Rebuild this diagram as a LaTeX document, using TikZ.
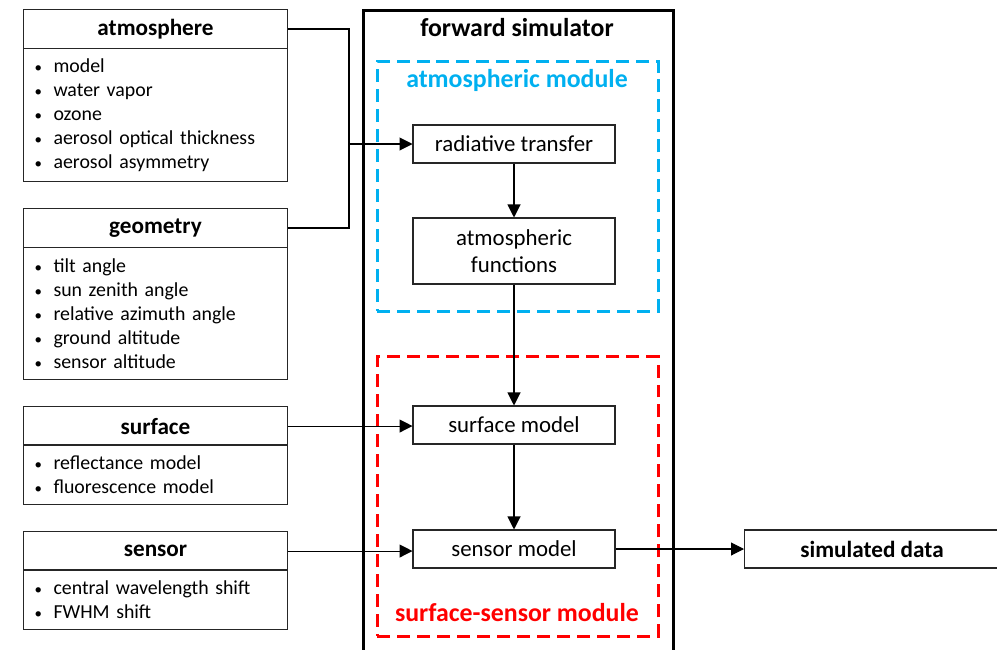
\documentclass[tikz,border=0pt]{standalone}
\usepackage{fontspec}
\setmainfont{Carlito}
\usetikzlibrary{arrows.meta}

\definecolor{atmblue}{RGB}{0,176,240}
\definecolor{surfred}{RGB}{255,0,0}
\newcommand{\bul}{\makebox[0.36cm][l]{\hspace{-0.02cm}\scalebox{0.75}{\textbullet}}}

\tikzset{
  head/.style={draw=black!85, line width=0.6pt, anchor=north west, inner sep=0pt,
    minimum width=5.28cm, minimum height=0.78cm, font=\bfseries\fontsize{13.2}{15}\selectfont},
  listbox/.style={draw=black!85, line width=0.6pt, anchor=north west, align=left,
    inner xsep=0.24cm, inner ysep=0pt, text width=4.8cm, font=\fontsize{11.3}{13.6}\selectfont},
  stepbox/.style={draw=black!85, line width=0.6pt, inner sep=0pt, align=center,
    minimum width=4.04cm, minimum height=0.76cm, font=\fontsize{13}{15.5}\selectfont},
  title/.style={font=\bfseries\fontsize{14.7}{17}\selectfont},
  module/.style={draw=#1, line width=1.7pt, dash pattern=on 0.26cm off 0.14cm,
    anchor=north west, inner sep=0pt, minimum width=5.62cm},
  flow/.style={-{Triangle[length=0.26cm,width=0.26cm]}, line width=0.6pt},
}

\begin{document}
\begin{tikzpicture}[x=0.02cm, y=-0.02cm]
  \useasboundingbox (0,0) rectangle (997,649);

  % forward simulator frame
  \node[draw, line width=1.7pt, anchor=north west, inner sep=0pt,
    minimum width=6.2cm, minimum height=13.3cm] (fwdsim) at (362,9) {};
  \node[title] (fwdtitle) at (517,28) {forward simulator};

  % modules
  \node[module=atmblue, minimum height=5cm] (atmmod) at (376,60) {};
  \node[title, text=atmblue] (atmlabel) at (517,80) {atmospheric module};
  \node[module=surfred, minimum height=5.6cm] (surfmod) at (376,355) {};
  \node[title, text=surfred] (surflabel) at (517,613) {surface-sensor module};

  % inputs
  \node[head] (atmhead) at (23,9) {atmosphere};
  \node[listbox, minimum height=2.66cm] (atmlist) at (23,48) {
    \bul model\\
    \bul water vapor\\
    \bul ozone\\
    \bul aerosol optical thickness\\
    \bul aerosol asymmetry};

  \node[head] (geohead) at (23,208) {geometry};
  \node[listbox, minimum height=2.64cm] (geolist) at (23,247) {
    \bul tilt angle\\
    \bul sun zenith angle\\
    \bul relative azimuth angle\\
    \bul ground altitude\\
    \bul sensor altitude};

  \node[head] (surfhead) at (23,406) {surface};
  \node[listbox, minimum height=1.2cm] (surflist) at (23,444) {
    \bul reflectance model\\
    \bul fluorescence model};

  \node[head] (senshead) at (23,531) {sensor};
  \node[listbox, minimum height=1.2cm] (senslist) at (23,569) {
    \bul central wavelength shift\\
    \bul FWHM shift};

  % simulator steps
  \node[stepbox] (radtrans) at (514,144) {radiative transfer};
  \node[stepbox, minimum height=1.32cm] (atmfunc) at (514,251) {atmospheric\\functions};
  \node[stepbox] (surfmodel) at (514,425) {surface model};
  \node[stepbox] (sensmodel) at (514,549) {sensor model};

  % output
  \node[draw=black!85, line width=0.6pt, inner sep=0pt, minimum width=5.1cm, minimum height=0.76cm,
    font=\bfseries\fontsize{13.2}{15}\selectfont] (simdata) at (872,549) {simulated data};

  % connectors
  \coordinate (join) at (349,144);
  \draw[line width=0.6pt] (atmhead.east) -| (join);
  \draw[line width=0.6pt] (geohead.east) -| (join);
  \draw[flow] (join) -- (radtrans.west);
  \draw[flow] (radtrans) -- (atmfunc);
  \draw[flow] (atmfunc) -- (surfmodel);
  \draw[flow] (surfmodel) -- (sensmodel);
  \draw[flow] (surfhead.east) -- (surfhead.east -| surfmodel.west);
  \draw[flow] (senshead.east) -- (senshead.east -| sensmodel.west);
  \draw[flow] (sensmodel) -- (simdata);
\end{tikzpicture}
\end{document}
